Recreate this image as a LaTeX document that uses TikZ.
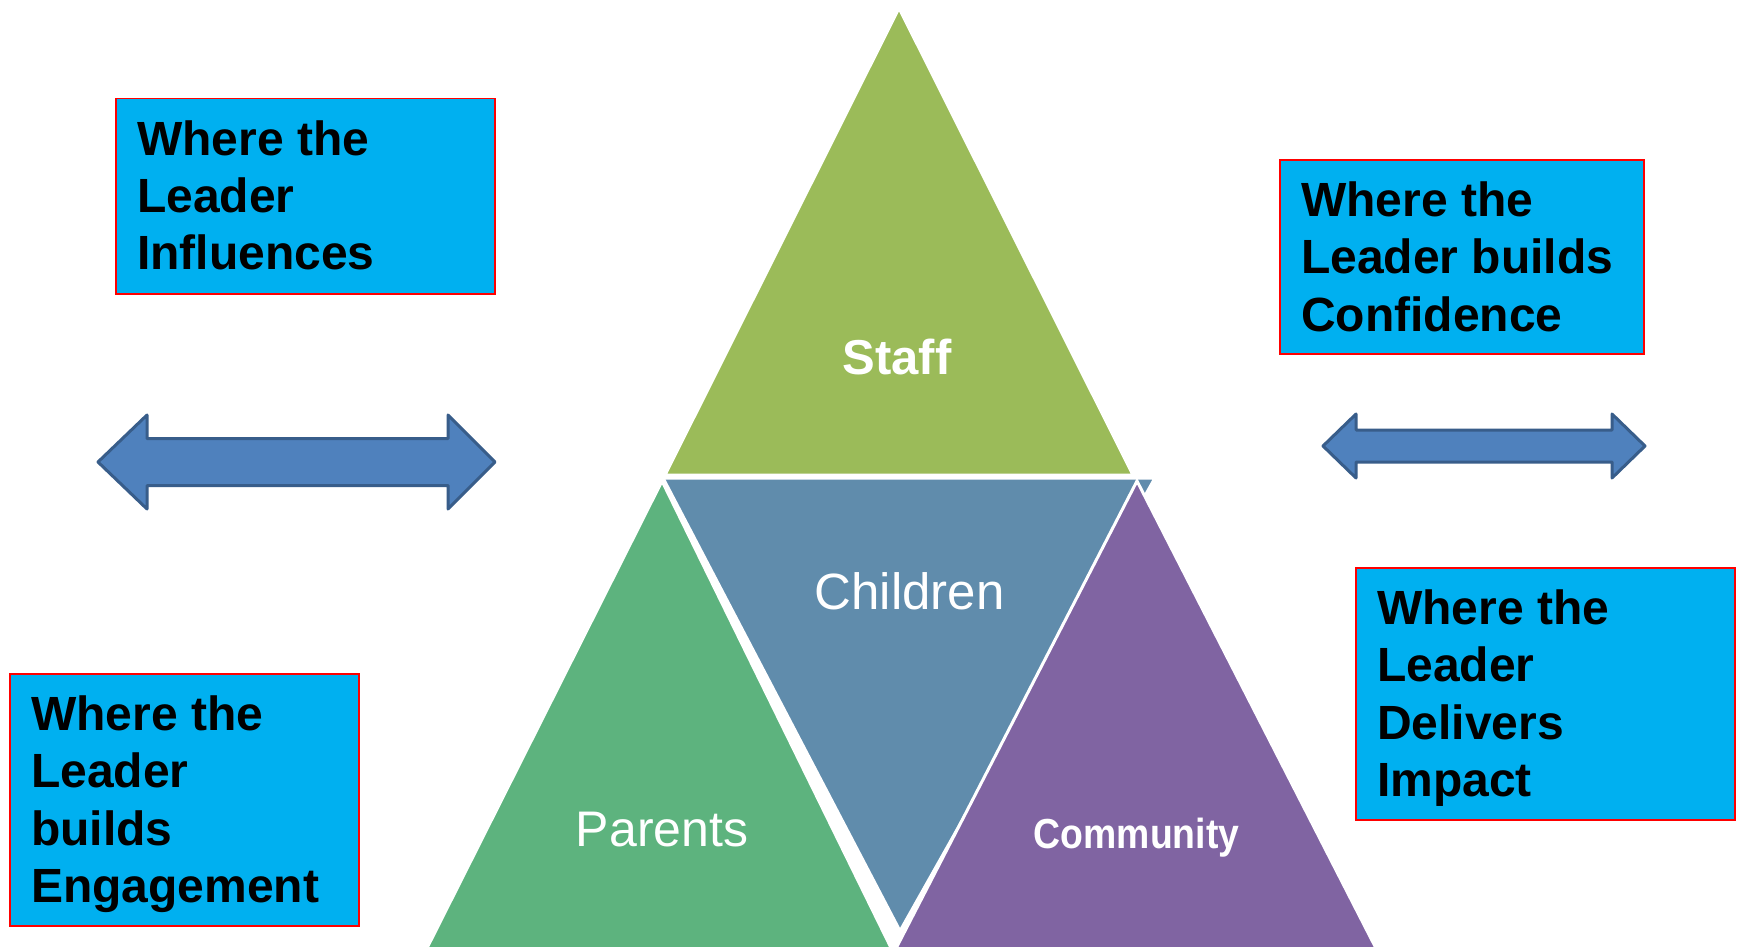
\documentclass[tikz,border=0pt]{standalone}
\usepackage{fontspec}
\setmainfont{Liberation Sans}
\definecolor{staffgreen}{HTML}{9BBB59}
\definecolor{childblue}{RGB}{96,140,172}
\definecolor{parentgreen}{RGB}{93,179,126}
\definecolor{commpurple}{HTML}{8064A2}
\definecolor{boxcyan}{HTML}{00B0F0}
\definecolor{arrowfill}{HTML}{4F81BD}
\definecolor{arrowedge}{HTML}{385D8A}
\tikzset{
  segment/.style={draw=white, line width=3pt, line join=miter},
  infobox/.style={draw=red, line width=1.5pt, fill=boxcyan, inner sep=0pt, anchor=north west},
  infotext/.style={anchor=base west, inner sep=0pt, font=\bfseries\fontsize{48}{57.5}\selectfont},
  dblarrow/.style={fill=arrowfill, draw=arrowedge, line width=3pt, line join=round},
  seglabel/.style={text=white, inner sep=0pt, anchor=base}
}
\newcommand{\boxlines}[1]{\parbox[t]{420pt}{\raggedright #1}}
\begin{document}
\begin{tikzpicture}[x=1pt,y=-1pt]
  \useasboundingbox (0,0) rectangle (1745,947);
  \fill[white] (0,0) rectangle (1745,947);

  % pyramid segments
  \begin{scope}
    \clip (0,0) rectangle (1745,947);
    \path[segment, fill=staffgreen]  (899,8) -- (1133,475) -- (665,475) -- cycle;
    \path[segment, fill=childblue]   (663,478) -- (1155,478) -- (900,931) -- cycle;
    \path[segment, fill=parentgreen] (662,481) -- (897,960) -- (421,960) -- cycle;
    \path[segment, fill=commpurple]  (1137,481) -- (1382,960) -- (890,960) -- cycle;
  \end{scope}

  \node[seglabel, font=\bfseries\fontsize{49}{58}\selectfont] (staff) at (897,374) {Staff};
  \node[seglabel, font=\fontsize{51}{60}\selectfont] (children) at (909.5,609) {Children};
  \node[seglabel, font=\fontsize{50}{59}\selectfont] (parents) at (662,846) {Parents};
  \node[seglabel, font=\bfseries\fontsize{42}{50}\selectfont] (community) at (1136.5,848)
    {\scalebox{0.89}[1]{Community}};

  % text boxes
  \node[infobox, minimum width=379pt, minimum height=195pt] (influences) at (115,98) {};
  \node[infotext] (influencesT) at ([shift={(22,57)}]influences.north west)
    {\boxlines{Where the\\Leader\\Influences}};

  \node[infobox, minimum width=364pt, minimum height=194pt] (confidence) at (1279,159) {};
  \node[infotext] (confidenceT) at ([shift={(22,57)}]confidence.north west)
    {\boxlines{Where the\\Leader builds\\Confidence}};

  \node[infobox, minimum width=349pt, minimum height=252pt] (engagement) at (9,673) {};
  \node[infotext] (engagementT) at ([shift={(22,57)}]engagement.north west)
    {\boxlines{Where the\\Leader\\builds\\Engagement}};

  \node[infobox, minimum width=379pt, minimum height=252pt] (impact) at (1355,567) {};
  \node[infotext] (impactT) at ([shift={(22,57)}]impact.north west)
    {\boxlines{Where the\\Leader\\Delivers\\Impact}};

  % double-headed block arrows
  \path[dblarrow] (98,462) -- (147,415) -- (147,438.5) -- (448,438.5) -- (448,415)
    -- (495,462) -- (448,509) -- (448,485.5) -- (147,485.5) -- (147,509) -- cycle;
  \path[dblarrow] (1323,446) -- (1356,414) -- (1356,430) -- (1612,430) -- (1612,414)
    -- (1645,446) -- (1612,478) -- (1612,462) -- (1356,462) -- (1356,478) -- cycle;
\end{tikzpicture}
\end{document}
